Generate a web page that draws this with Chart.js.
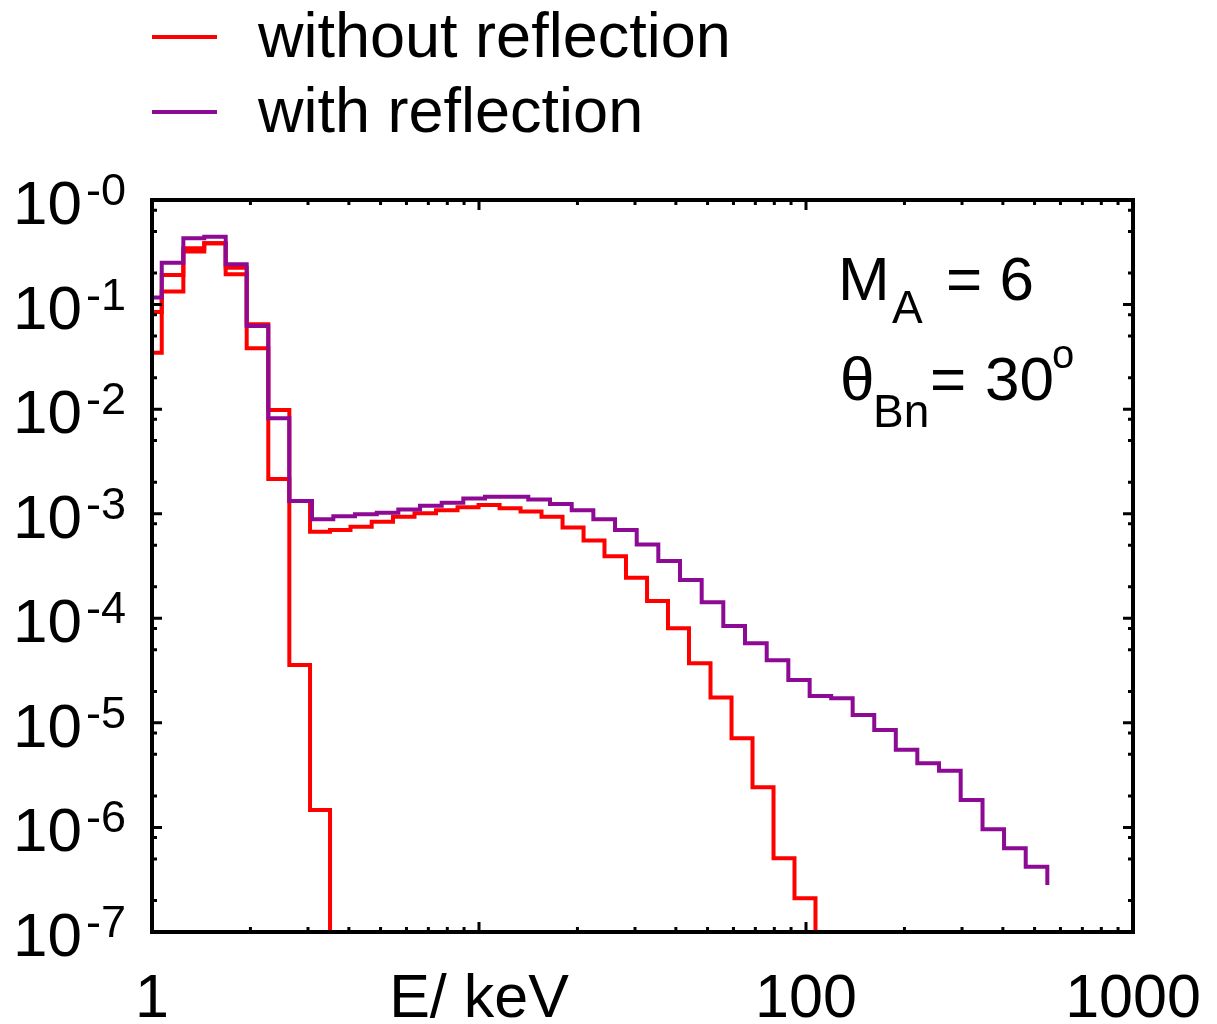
<!DOCTYPE html>
<html>
<head>
<meta charset="utf-8">
<script src="https://cdn.jsdelivr.net/npm/chart.js@4"></script>
<style>
  html, body { margin: 0; padding: 0; background: #fff; }
  #wrap { width: 1217px; height: 1024px; position: relative; }
</style>
</head>
<body>
<div id="wrap"><canvas id="spectrum"></canvas></div>
<script>
// bin edges (keV)
const redEdges = [0.924, 1.071, 1.247, 1.445, 1.680, 1.948, 2.268, 2.630, 3.043, 3.503,
    4.046, 4.697, 5.458, 6.350, 7.388, 8.597, 9.966, 11.56, 13.40, 15.53, 18.01, 20.88,
    24.20, 28.15, 32.65, 37.84, 43.87, 51.05, 59.19, 68.62, 79.56, 92.22, 106.9];
const purpleEdges = [0.924, 1.071, 1.247, 1.445, 1.680, 1.948, 2.268, 2.630, 3.085, 3.585,
    4.177, 4.867, 5.666, 6.600, 7.690, 8.954, 10.43, 12.15, 14.15, 16.49, 19.21, 22.37,
    26.06, 30.36, 35.35, 41.18, 47.97, 55.86, 65.09, 75.83, 88.30, 102.6, 119.4, 138.9,
    161.7, 188.2, 219.0, 255.1, 297.2, 346.6, 403.3, 469.8, 547.0];

// bin contents, last entry = level after the final edge
const redMain = [0.0849, 0.192, 0.345, 0.385, 0.225, 0.0648, 0.00982, 1.32e-3, 6.73e-4,
    6.98e-4, 7.51e-4, 8.39e-4, 9.36e-4, 1.01e-3, 1.08e-3, 1.15e-3, 1.21e-3, 1.13e-3,
    1.05e-3, 9.36e-4, 7.38e-4, 5.54e-4, 3.92e-4, 2.44e-4, 1.46e-4, 8.02e-5, 3.71e-5,
    1.75e-5, 7.11e-6, 2.42e-6, 5.07e-7, 2.10e-7, 1e-10];
const redThermal = [0.0347, 0.133, 0.321, 0.385, 0.195, 0.0382, 2.15e-3, 3.57e-5, 1.47e-6, 1e-10];
const purpleVals = [0.117, 0.251, 0.430, 0.446, 0.243, 0.0624, 8.17e-3, 1.32e-3, 8.85e-4,
    9.44e-4, 9.87e-4, 1.02e-3, 1.10e-3, 1.19e-3, 1.27e-3, 1.40e-3, 1.45e-3, 1.45e-3,
    1.37e-3, 1.24e-3, 1.08e-3, 8.85e-4, 6.98e-4, 5.07e-4, 3.53e-4, 2.32e-4, 1.42e-4,
    8.44e-5, 5.76e-5, 3.96e-5, 2.57e-5, 1.81e-5, 1.72e-5, 1.19e-5, 8.55e-6, 5.54e-6,
    4.10e-6, 3.49e-6, 1.83e-6, 9.59e-7, 6.31e-7, 4.21e-7, 2.81e-7];

const xTickValues = [1, 10, 100, 1000];
const xTickLabels = ['1', 'E/ keV', '100', '1000'];
const yTickValues = [1, 1e-1, 1e-2, 1e-3, 1e-4, 1e-5, 1e-6, 1e-7];
const yTickExps = ['-0', '-1', '-2', '-3', '-4', '-5', '-6', '-7'];
const legendLabels = ['without reflection', 'with reflection'];

const RED = '#ff0000';
const PURPLE = '#8c0a94';
const FONT = '"Liberation Sans", Arial, sans-serif';

function histo(edges, vals) {
    return edges.map((e, i) => ({ x: e, y: vals[i] }));
}

// frame, inward ticks, labels, legend, annotation
const gnuplotLook = {
    id: 'gnuplotLook',
    afterDatasetsDraw(chart) {
        const ctx = chart.ctx;
        const a = chart.chartArea;
        const xs = chart.scales.x, ys = chart.scales.y;
        ctx.save();
        ctx.strokeStyle = '#000';
        ctx.fillStyle = '#000';
        ctx.lineWidth = 4;
        ctx.strokeRect(a.left, a.top, a.right - a.left, a.bottom - a.top);

        ctx.lineWidth = 3;
        ctx.beginPath();
        // x ticks bottom + top
        for (let d = 1; d <= 1000; d *= 10) {
            for (let m = 1; m <= 9; m++) {
                const v = d * m;
                if (v > 1000) break;
                const px = xs.getPixelForValue(v);
                const len = m === 1 ? 10 : 5;
                ctx.moveTo(px, a.bottom); ctx.lineTo(px, a.bottom - len);
                ctx.moveTo(px, a.top); ctx.lineTo(px, a.top + len);
            }
        }
        // y ticks left + right
        yTickValues.forEach(v => {
            [1, 2, 5, 8].forEach(m => {
                const val = v * m;
                if (val > 1) return;
                const py = ys.getPixelForValue(val);
                const len = m === 1 ? 10 : 5;
                ctx.moveTo(a.left, py); ctx.lineTo(a.left + len, py);
                ctx.moveTo(a.right, py); ctx.lineTo(a.right - len, py);
            });
        });
        ctx.stroke();

        // x tick labels
        ctx.font = '61px ' + FONT;
        ctx.textAlign = 'center';
        ctx.textBaseline = 'alphabetic';
        xTickValues.forEach((v, i) => {
            ctx.fillText(xTickLabels[i], xs.getPixelForValue(v), 1017);
        });

        // y tick labels 10^-n
        yTickValues.forEach((v, i) => {
            const py = ys.getPixelForValue(v);
            ctx.font = '62px ' + FONT;
            ctx.textAlign = 'right';
            ctx.fillText('10', 82, py + 24);
            ctx.font = '45px ' + FONT;
            ctx.textAlign = 'left';
            ctx.fillText(yTickExps[i], 86, py + 5);
        });

        // legend
        const legendColors = [RED, PURPLE];
        const legendY = [37, 112];
        const legendBase = [57, 132];
        ctx.lineWidth = 4;
        legendLabels.forEach((t, i) => {
            ctx.strokeStyle = legendColors[i];
            ctx.beginPath();
            ctx.moveTo(152, legendY[i]); ctx.lineTo(217, legendY[i]);
            ctx.stroke();
            ctx.font = '63px ' + FONT;
            ctx.textAlign = 'left';
            ctx.fillText(t, 258, legendBase[i]);
        });

        // annotation
        ctx.textAlign = 'left';
        ctx.font = '62px ' + FONT;
        ctx.fillText('M', 838, 300);
        ctx.fillText('= 6', 946, 300);
        ctx.font = '46px ' + FONT;
        ctx.fillText('A', 892, 323);
        ctx.font = '62px ' + FONT;
        ctx.fillText('\u03b8', 840, 400);
        ctx.fillText('=', 930, 400);
        ctx.fillText('30', 985, 400);
        ctx.font = '46px ' + FONT;
        ctx.fillText('Bn', 873, 427);
        ctx.font = '40px ' + FONT;
        ctx.fillText('o', 1052, 368);
        ctx.restore();
    }
};

new Chart(document.getElementById('spectrum'), {
    type: 'line',
    data: {
        datasets: [
            {
                label: legendLabels[1],
                data: histo(purpleEdges, purpleVals),
                borderColor: PURPLE,
                order: 0
            },
            {
                label: legendLabels[0],
                data: histo(redEdges, redMain),
                borderColor: RED,
                order: 1
            },
            {
                label: legendLabels[0],
                data: histo(redEdges.slice(0, redThermal.length), redThermal),
                borderColor: RED,
                order: 2
            }
        ]
    },
    options: {
        responsive: true,
        maintainAspectRatio: false,
        animation: false,
        events: [],
        layout: { padding: { left: 152, right: 84, top: 200, bottom: 92 } },
        datasets: {
            line: {
                stepped: 'before',
                borderWidth: 4,
                pointRadius: 0,
                fill: false,
                borderJoinStyle: 'miter',
                borderCapStyle: 'butt'
            }
        },
        plugins: {
            legend: { display: false },
            tooltip: { enabled: false }
        },
        scales: {
            x: { type: 'logarithmic', min: 1, max: 1000, display: false },
            y: { type: 'logarithmic', min: 1e-7, max: 1, display: false }
        }
    },
    plugins: [gnuplotLook]
});
</script>
</body>
</html>
